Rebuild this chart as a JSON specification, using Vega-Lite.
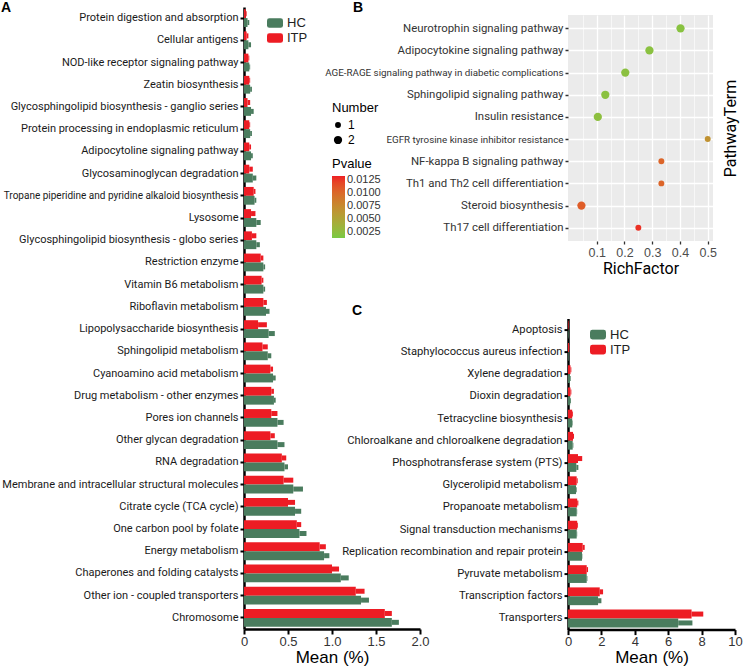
{
  "$schema": "https://vega.github.io/schema/vega-lite/v6.json",
  "padding": {"left": 1, "top": 0, "right": 0, "bottom": 0},
  "background": "white",
  "config": {
    "view": {"stroke": null},
    "axis": {"grid": false, "labelFont": "Roboto", "titleFont": "Liberation Sans", "titleFontWeight": "normal", "labelFlush": false, "labelOverlap": false},
    "legend": {"labelFont": "Liberation Sans", "titleFont": "Liberation Sans", "titleFontWeight": "normal"},
    "title": {"font": "Liberation Sans", "fontWeight": "bold", "fontSize": 14, "anchor": "start", "frame": "group", "color": "black"}
  },
  "datasets": {
    "a": [
      {"p": "Protein digestion and absorption", "g": "ITP", "m": 0.02, "u": 0.03},
      {"p": "Protein digestion and absorption", "g": "HC", "m": 0.04, "u": 0.06},
      {"p": "Cellular antigens", "g": "ITP", "m": 0.03, "u": 0.05},
      {"p": "Cellular antigens", "g": "HC", "m": 0.05, "u": 0.08},
      {"p": "NOD-like receptor signaling pathway", "g": "ITP", "m": 0.05, "u": 0.06},
      {"p": "NOD-like receptor signaling pathway", "g": "HC", "m": 0.06, "u": 0.07},
      {"p": "Zeatin biosynthesis", "g": "ITP", "m": 0.06, "u": 0.07},
      {"p": "Zeatin biosynthesis", "g": "HC", "m": 0.07, "u": 0.09},
      {"p": "Glycosphingolipid biosynthesis - ganglio series", "g": "ITP", "m": 0.04, "u": 0.07},
      {"p": "Glycosphingolipid biosynthesis - ganglio series", "g": "HC", "m": 0.08, "u": 0.11},
      {"p": "Protein processing in endoplasmic reticulum", "g": "ITP", "m": 0.06, "u": 0.07},
      {"p": "Protein processing in endoplasmic reticulum", "g": "HC", "m": 0.07, "u": 0.09},
      {"p": "Adipocytoline signaling pathway", "g": "ITP", "m": 0.06, "u": 0.08},
      {"p": "Adipocytoline signaling pathway", "g": "HC", "m": 0.08, "u": 0.1},
      {"p": "Glycosaminoglycan degradation", "g": "ITP", "m": 0.06, "u": 0.1},
      {"p": "Glycosaminoglycan degradation", "g": "HC", "m": 0.1, "u": 0.14},
      {"p": "Tropane piperidine and pyridine alkaloid biosynthesis", "g": "ITP", "m": 0.11, "u": 0.13},
      {"p": "Tropane piperidine and pyridine alkaloid biosynthesis", "g": "HC", "m": 0.12, "u": 0.14},
      {"p": "Lysosome", "g": "ITP", "m": 0.08, "u": 0.13},
      {"p": "Lysosome", "g": "HC", "m": 0.14, "u": 0.19},
      {"p": "Glycosphingolipid biosynthesis - globo series", "g": "ITP", "m": 0.09, "u": 0.14},
      {"p": "Glycosphingolipid biosynthesis - globo series", "g": "HC", "m": 0.14, "u": 0.18},
      {"p": "Restriction enzyme", "g": "ITP", "m": 0.19, "u": 0.22},
      {"p": "Restriction enzyme", "g": "HC", "m": 0.22, "u": 0.24},
      {"p": "Vitamin B6 metabolism", "g": "ITP", "m": 0.2, "u": 0.22},
      {"p": "Vitamin B6 metabolism", "g": "HC", "m": 0.22, "u": 0.24},
      {"p": "Riboflavin metabolism", "g": "ITP", "m": 0.22, "u": 0.26},
      {"p": "Riboflavin metabolism", "g": "HC", "m": 0.25, "u": 0.29},
      {"p": "Lipopolysaccharide biosynthesis", "g": "ITP", "m": 0.16, "u": 0.26},
      {"p": "Lipopolysaccharide biosynthesis", "g": "HC", "m": 0.28, "u": 0.35},
      {"p": "Sphingolipid metabolism", "g": "ITP", "m": 0.21, "u": 0.27},
      {"p": "Sphingolipid metabolism", "g": "HC", "m": 0.27, "u": 0.31},
      {"p": "Cyanoamino acid metabolism", "g": "ITP", "m": 0.3, "u": 0.33},
      {"p": "Cyanoamino acid metabolism", "g": "HC", "m": 0.33, "u": 0.36},
      {"p": "Drug metabolism - other enzymes", "g": "ITP", "m": 0.31, "u": 0.34},
      {"p": "Drug metabolism - other enzymes", "g": "HC", "m": 0.34, "u": 0.36},
      {"p": "Pores ion channels", "g": "ITP", "m": 0.31, "u": 0.38},
      {"p": "Pores ion channels", "g": "HC", "m": 0.38, "u": 0.45},
      {"p": "Other glycan degradation", "g": "ITP", "m": 0.3, "u": 0.35},
      {"p": "Other glycan degradation", "g": "HC", "m": 0.38, "u": 0.46},
      {"p": "RNA degradation", "g": "ITP", "m": 0.43, "u": 0.48},
      {"p": "RNA degradation", "g": "HC", "m": 0.46, "u": 0.5},
      {"p": "Membrane and intracellular structural molecules", "g": "ITP", "m": 0.45, "u": 0.56},
      {"p": "Membrane and intracellular structural molecules", "g": "HC", "m": 0.56, "u": 0.67},
      {"p": "Citrate cycle (TCA cycle)", "g": "ITP", "m": 0.5, "u": 0.58},
      {"p": "Citrate cycle (TCA cycle)", "g": "HC", "m": 0.58, "u": 0.65},
      {"p": "One carbon pool by folate", "g": "ITP", "m": 0.6, "u": 0.65},
      {"p": "One carbon pool by folate", "g": "HC", "m": 0.63, "u": 0.71},
      {"p": "Energy metabolism", "g": "ITP", "m": 0.86, "u": 0.93},
      {"p": "Energy metabolism", "g": "HC", "m": 0.91, "u": 0.97},
      {"p": "Chaperones and folding catalysts", "g": "ITP", "m": 1.0, "u": 1.08},
      {"p": "Chaperones and folding catalysts", "g": "HC", "m": 1.1, "u": 1.19},
      {"p": "Other ion - coupled transporters", "g": "ITP", "m": 1.27, "u": 1.37},
      {"p": "Other ion - coupled transporters", "g": "HC", "m": 1.33, "u": 1.42},
      {"p": "Chromosome", "g": "ITP", "m": 1.6, "u": 1.68},
      {"p": "Chromosome", "g": "HC", "m": 1.68, "u": 1.76}
    ],
    "c": [
      {"p": "Apoptosis", "g": "ITP", "m": 0.03, "u": 0.05},
      {"p": "Apoptosis", "g": "HC", "m": 0.03, "u": 0.05},
      {"p": "Staphylococcus aureus infection", "g": "ITP", "m": 0.06, "u": 0.08},
      {"p": "Staphylococcus aureus infection", "g": "HC", "m": 0.04, "u": 0.05},
      {"p": "Xylene degradation", "g": "ITP", "m": 0.15, "u": 0.2},
      {"p": "Xylene degradation", "g": "HC", "m": 0.12, "u": 0.16},
      {"p": "Dioxin degradation", "g": "ITP", "m": 0.15, "u": 0.2},
      {"p": "Dioxin degradation", "g": "HC", "m": 0.13, "u": 0.18},
      {"p": "Tetracycline biosynthesis", "g": "ITP", "m": 0.25, "u": 0.3},
      {"p": "Tetracycline biosynthesis", "g": "HC", "m": 0.25, "u": 0.28},
      {"p": "Chloroalkane and chloroalkene degradation", "g": "ITP", "m": 0.3, "u": 0.36},
      {"p": "Chloroalkane and chloroalkene degradation", "g": "HC", "m": 0.28, "u": 0.32},
      {"p": "Phosphotransferase system (PTS)", "g": "ITP", "m": 0.6, "u": 0.85},
      {"p": "Phosphotransferase system (PTS)", "g": "HC", "m": 0.5, "u": 0.62},
      {"p": "Glycerolipid metabolism", "g": "ITP", "m": 0.52, "u": 0.58},
      {"p": "Glycerolipid metabolism", "g": "HC", "m": 0.48, "u": 0.52},
      {"p": "Propanoate metabolism", "g": "ITP", "m": 0.55, "u": 0.62},
      {"p": "Propanoate metabolism", "g": "HC", "m": 0.52, "u": 0.55},
      {"p": "Signal transduction mechanisms", "g": "ITP", "m": 0.55, "u": 0.6},
      {"p": "Signal transduction mechanisms", "g": "HC", "m": 0.52, "u": 0.55},
      {"p": "Replication recombination and repair protein", "g": "ITP", "m": 0.88, "u": 1.0},
      {"p": "Replication recombination and repair protein", "g": "HC", "m": 0.84, "u": 0.86},
      {"p": "Pyruvate metabolism", "g": "ITP", "m": 1.12, "u": 1.2},
      {"p": "Pyruvate metabolism", "g": "HC", "m": 1.12, "u": 1.16},
      {"p": "Transcription factors", "g": "ITP", "m": 1.9, "u": 2.1},
      {"p": "Transcription factors", "g": "HC", "m": 1.8, "u": 2.0},
      {"p": "Transporters", "g": "ITP", "m": 7.4, "u": 8.1},
      {"p": "Transporters", "g": "HC", "m": 6.6, "u": 7.45}
    ],
    "b": [
      {"p": "Neurotrophin signaling pathway", "rich": 0.402, "number": 2, "pvalue": 0.0021},
      {"p": "Adipocytokine signaling pathway", "rich": 0.29, "number": 2, "pvalue": 0.0022},
      {"p": "AGE-RAGE signaling pathway in diabetic complications", "rich": 0.203, "number": 2, "pvalue": 0.0023},
      {"p": "Sphingolipid signaling pathway", "rich": 0.131, "number": 2, "pvalue": 0.0022},
      {"p": "Insulin resistance", "rich": 0.104, "number": 2, "pvalue": 0.0024},
      {"p": "EGFR tyrosine kinase inhibitor resistance", "rich": 0.5, "number": 1, "pvalue": 0.0068},
      {"p": "NF-kappa B signaling pathway", "rich": 0.333, "number": 1, "pvalue": 0.0103},
      {"p": "Th1 and Th2 cell differentiation", "rich": 0.333, "number": 1, "pvalue": 0.0103},
      {"p": "Steroid biosynthesis", "rich": 0.045, "number": 2, "pvalue": 0.0108},
      {"p": "Th17 cell differentiation", "rich": 0.25, "number": 1, "pvalue": 0.0128}
    ],
    "empty": []
  },
  "resolve": {
    "scale": {"x": "independent", "y": "independent", "color": "independent", "size": "independent"},
    "legend": {"color": "independent", "size": "independent"}
  },
  "spacing": -106,
  "hconcat": [
    {
      "width": 176,
      "height": 622,
      "data": {"name": "a"},
      "title": {"text": "A", "dx": -243, "offset": -7.5},
      "encoding": {
        "x": {
          "field": "m", "type": "quantitative",
          "scale": {"domain": [0, 2], "nice": false},
          "axis": {"title": "Mean (%)", "values": [0, 0.5, 1, 1.5, 2], "tickCount": 5, "labelExpr": "datum.value == 0 ? '0' : format(datum.value, '.1f')", "labelOverlap": false, "labelFlush": false, "domainColor": "black", "domainWidth": 2.5, "tickColor": "black", "tickWidth": 2, "tickSize": 5, "labelFont": "Liberation Sans", "labelFontSize": 13, "labelColor": "#333", "labelPadding": 1, "titleFontSize": 17, "titleColor": "black", "titlePadding": 1}
        },
        "y": {
          "field": "p", "type": "nominal", "sort": null,
          "scale": {"paddingInner": 0.2, "paddingOuter": 0.1},
          "axis": {"title": null, "domainColor": "black", "domainWidth": 2.5, "tickColor": "black", "tickWidth": 2, "tickSize": 4, "labelColor": "#1a1a1a", "labelPadding": 2, "labelLimit": 300,
            "labelFontSize": {"condition": {"test": "indexof(datum.label, 'Tropane') == 0", "value": 10}, "value": 11}}
        },
        "yOffset": {"field": "g", "type": "nominal", "scale": {"domain": ["ITP", "HC"]}},
        "color": {
          "field": "g", "type": "nominal",
          "scale": {"domain": ["HC", "ITP"], "range": ["#4a7c5e", "#ed1c24"]},
          "legend": {"title": null, "orient": "none", "legendX": 23, "legendY": 8, "symbolType": "M-0.7,-0.6L0.7,-0.6Q1,-0.6 1,-0.3L1,0.3Q1,0.6 0.7,0.6L-0.7,0.6Q-1,0.6 -1,0.3L-1,-0.3Q-1,-0.6 -0.7,-0.6Z", "symbolSize": 256, "symbolStrokeWidth": 0, "symbolOpacity": 1, "labelFontSize": 13, "labelColor": "#222", "rowPadding": 0, "labelOffset": 4}
        }
      },
      "layer": [
        {"mark": {"type": "bar"}},
        {"mark": {"type": "bar", "size": 5}, "encoding": {"x2": {"field": "u"}}}
      ]
    },
    {
      "bounds": "flush",
      "spacing": 7,
      "resolve": {
        "scale": {"x": "independent", "y": "independent", "color": "independent", "size": "independent"},
        "legend": {"color": "independent", "size": "independent"}
      },
      "vconcat": [
        {"width": 1, "height": 1, "data": {"name": "empty"}, "mark": "point"},
        {
          "bounds": "flush",
          "spacing": 77.6,
          "resolve": {
            "scale": {"x": "independent", "y": "independent", "color": "independent", "size": "independent"},
            "legend": {"color": "independent", "size": "independent"}
          },
          "vconcat": [
            {
              "width": 145,
              "height": 226,
              "data": {"name": "b"},
              "view": {"fill": "#ebebeb", "stroke": null},
              "title": {"text": "B", "dx": -215, "offset": 0.5},
              "mark": {"type": "circle", "opacity": 1},
              "encoding": {
                "x": {
                  "field": "rich", "type": "quantitative",
                  "scale": {"domain": [-0.0034, 0.519], "nice": false, "zero": false},
                  "axis": {
                    "title": "RichFactor",
                    "values": [0.05, 0.1, 0.15, 0.2, 0.25, 0.3, 0.35, 0.4, 0.45, 0.5],
                    "tickCount": 10,
                    "labelExpr": "round(datum.value*20)%2==0 ? format(datum.value, '.1f') : ''",
                    "labelOverlap": false, "labelFlush": false,
                    "grid": true, "gridColor": "white",
                    "gridWidth": {"condition": {"test": "round(datum.value*20)%2==0", "value": 1.3}, "value": 0.6},
                    "tickOpacity": {"condition": {"test": "round(datum.value*20)%2==0", "value": 1}, "value": 0},
                    "domain": false, "tickColor": "#333", "tickSize": 3, "tickWidth": 1.3,
                    "labelFont": "Liberation Sans", "labelFontSize": 12.5, "labelColor": "#4d4d4d", "labelPadding": 2,
                    "titleFont": "Roboto", "titleFontSize": 16, "titleColor": "black", "titlePadding": 2
                  }
                },
                "y": {
                  "field": "p", "type": "nominal", "sort": null,
                  "scale": {"type": "point", "padding": 0.6},
                  "axis": {
                    "title": "PathwayTerm", "titleX": 162, "titleY": 113, "titleAngle": -90, "titleAlign": "center", "titleBaseline": "middle",
                    "titleFont": "Roboto", "titleFontSize": 16, "titleColor": "black",
                    "grid": true, "gridColor": "white", "gridWidth": 1.3,
                    "domain": false, "tickColor": "#333", "tickSize": 3, "tickWidth": 1.5,
                    "labelFontSize": {"condition": {"test": "indexof(datum.label, 'AGE') == 0 || indexof(datum.label, 'EGFR') == 0", "value": 9.8}, "value": 11.4},
                    "labelColor": "#333", "labelPadding": 2, "labelLimit": 300
                  }
                },
                "size": {
                  "field": "number", "type": "quantitative",
                  "scale": {"domain": [1, 2], "range": [35, 68], "zero": false},
                  "legend": {"title": "Number", "orient": "none", "legendX": -236, "legendY": 87, "values": [1, 2], "format": "d", "symbolType": "circle", "labelFontSize": 12, "titleFontSize": 13, "titleColor": "black", "labelColor": "black", "rowPadding": 1, "titlePadding": 4,
                    "encode": {"symbols": {"update": {"fill": {"value": "black"}, "stroke": {"value": "black"}, "strokeWidth": {"value": 0}, "opacity": {"value": 1}}}}}
                },
                "color": {
                  "field": "pvalue", "type": "quantitative",
                  "scale": {"domain": [0.0013, 0.0133], "range": ["#7ac943", "#ee1c24"], "interpolate": "lab"},
                  "legend": {"title": "Pvalue", "orient": "none", "legendX": -236, "legendY": 143, "gradientLength": 62, "gradientThickness": 13, "values": [0.0025, 0.005, 0.0075, 0.01, 0.0125], "format": ".4f", "labelFontSize": 11, "titleFontSize": 13, "titleColor": "black", "labelColor": "#333", "gradientStrokeWidth": 0}
                }
              }
            },
            {
              "width": 167,
              "height": 311,
              "data": {"name": "c"},
              "title": {"text": "C", "dx": -216, "offset": 0.6},
              "encoding": {
                "x": {
                  "field": "m", "type": "quantitative",
                  "scale": {"domain": [0, 10], "nice": false},
                  "axis": {"title": "Mean (%)", "values": [0, 2, 4, 6, 8, 10], "tickCount": 6, "labelOverlap": false, "labelFlush": false, "labelBound": false, "domainColor": "black", "domainWidth": 2.5, "tickColor": "black", "tickWidth": 2, "tickSize": 5, "labelFont": "Liberation Sans", "labelFontSize": 13, "labelColor": "#333", "labelPadding": 1, "titleFontSize": 17, "titleColor": "black", "titlePadding": 1}
                },
                "y": {
                  "field": "p", "type": "nominal", "sort": null,
                  "scale": {"paddingInner": 0.2, "paddingOuter": 0.1},
                  "axis": {"title": null, "domainColor": "black", "domainWidth": 2.5, "tickColor": "black", "tickWidth": 2, "tickSize": 4, "labelFontSize": 11.2, "labelColor": "#1a1a1a", "labelPadding": 2, "labelLimit": 300}
                },
                "yOffset": {"field": "g", "type": "nominal", "scale": {"domain": ["ITP", "HC"]}},
                "color": {
                  "field": "g", "type": "nominal",
                  "scale": {"domain": ["HC", "ITP"], "range": ["#4a7c5e", "#ed1c24"]},
                  "legend": {"title": null, "orient": "none", "legendX": 22, "legendY": 8, "symbolType": "M-0.7,-0.6L0.7,-0.6Q1,-0.6 1,-0.3L1,0.3Q1,0.6 0.7,0.6L-0.7,0.6Q-1,0.6 -1,0.3L-1,-0.3Q-1,-0.6 -0.7,-0.6Z", "symbolSize": 256, "symbolStrokeWidth": 0, "symbolOpacity": 1, "labelFontSize": 13, "labelColor": "#222", "rowPadding": 0, "labelOffset": 4}
                }
              },
              "layer": [
                {"mark": {"type": "bar"}},
                {"mark": {"type": "bar", "size": 5}, "encoding": {"x2": {"field": "u"}}}
              ]
            }
          ]
        }
      ]
    }
  ]
}
